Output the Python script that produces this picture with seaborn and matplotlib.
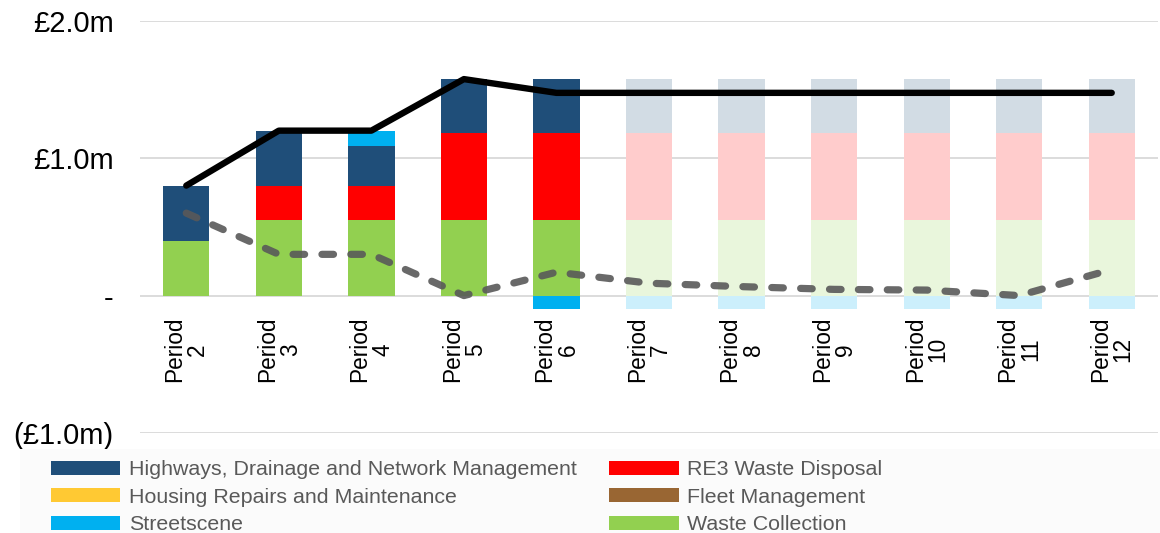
import numpy as np
import pandas as pd
import matplotlib
matplotlib.use("Agg")
import matplotlib.pyplot as plt
import matplotlib.transforms as mtransforms
from matplotlib.patches import Patch, Rectangle
from matplotlib.colors import to_rgb
import seaborn as sns

# ---- data (£m) ----
periods = ["Period\n2", "Period\n3", "Period\n4", "Period\n5", "Period\n6", "Period\n7",
           "Period\n8", "Period\n9", "Period\n10", "Period\n11", "Period\n12"]
actual_periods = 5  # Periods 2-6 are actuals, 7-12 forecast

waste_collection = [0.40, 0.55, 0.55, 0.55, 0.55, 0.55, 0.55, 0.55, 0.55, 0.55, 0.55]
re3_waste_disposal = [0.00, 0.25, 0.25, 0.63, 0.63, 0.63, 0.63, 0.63, 0.63, 0.63, 0.63]
highways = [0.40, 0.40, 0.29, 0.395, 0.395, 0.395, 0.395, 0.395, 0.395, 0.395, 0.395]
streetscene = [0.00, 0.00, 0.11, 0.00, -0.10, -0.10, -0.10, -0.10, -0.10, -0.10, -0.10]
housing_repairs = [0.0] * 11
fleet_management = [0.0] * 11

total_line = [0.80, 1.20, 1.20, 1.575, 1.475, 1.475, 1.475, 1.475, 1.475, 1.475, 1.475]
dashed_line = [0.60, 0.30, 0.30, 0.00, 0.17, 0.09, 0.065, 0.045, 0.04, 0.00, 0.19]

ytick_values = [-1.0, 0.0, 1.0, 2.0]
ytick_labels = ["(£1.0m)", "-", "£1.0m", "£2.0m"]

legend_labels = ["Highways, Drainage and Network Management", "Housing Repairs and Maintenance",
                 "Streetscene", "RE3 Waste Disposal", "Fleet Management", "Waste Collection"]

# ---- colours ----
NAVY = "#1F4E79"
RED = "#FF0000"
YELLOW = "#FFC933"
BROWN = "#996633"
CYAN = "#00B0F0"
GREEN = "#92D050"


def faded(c, a=0.2):
    r, g, b = to_rgb(c)
    return (1 - a + a * r, 1 - a + a * g, 1 - a + a * b)


def period_palette(c):
    return {p: (to_rgb(c) if i < actual_periods else faded(c)) for i, p in enumerate(periods)}


sns.set_theme(style="white")
plt.rcParams["font.family"] = ["Liberation Sans", "DejaVu Sans"]

fig = plt.figure(figsize=(11.6, 5.33), dpi=100)
ax = fig.add_axes([140 / 1160, 100 / 533, 1018 / 1160, 412.3 / 533])

# stacked layers drawn as cumulative heights, tallest first
wc = np.array(waste_collection)
re3 = np.array(re3_waste_disposal)
hw = np.array(highways)
st = np.array(streetscene)
st_pos = np.clip(st, 0, None)
st_neg = np.clip(st, None, 0)

layers = [
    (wc + re3 + hw + st_pos, CYAN),
    (wc + re3 + hw, NAVY),
    (wc + re3, RED),
    (wc, GREEN),
    (st_neg, CYAN),
]
for heights, col in layers:
    df = pd.DataFrame({"period": periods, "value": heights})
    sns.barplot(data=df, x="period", y="value", hue="period", order=periods,
                palette=period_palette(col), width=0.5, dodge=False, legend=False,
                saturation=1, linewidth=0, ax=ax, zorder=2)

# lines
sns.pointplot(x=periods, y=dashed_line, order=periods, color="#595959", marker="",
              linewidth=5.2, dashes=(1.6, 2.4), dash_capstyle="round", alpha=0.9,
              ax=ax, zorder=4)
sns.pointplot(x=periods, y=total_line, order=periods, color="black", marker="",
              linewidth=4.6, solid_capstyle="round", solid_joinstyle="round",
              ax=ax, zorder=5)

ax.set_xlim(-0.5, len(periods) - 0.5)
ax.set_ylim(-1.0, 2.0)
ax.set_yticks(ytick_values)
ax.set_yticklabels(ytick_labels)
ax.tick_params(axis="y", length=0, pad=19, labelsize=21, labelcolor="black")
ax.set_xticks([])
ax.set_xlabel("")
ax.set_ylabel("")
ax.grid(axis="y", color="#D9D9D9", linewidth=1.3, zorder=0)
ax.set_axisbelow(True)
for s in ax.spines.values():
    s.set_visible(False)

# category labels hang just under the zero line
off = mtransforms.offset_copy(ax.transData, fig=fig, x=0, y=-21, units="dots")
for i, p in enumerate(periods):
    ax.text(i, 0, p, rotation=90, ha="center", va="top", multialignment="center",
            fontsize=16.3, color="black", transform=off, linespacing=1.0)

# legend panel
fig.patches.append(Rectangle((20 / 1160, 0), 1 - 20 / 1160, 84 / 533, transform=fig.transFigure,
                             facecolor="#FBFBFB", edgecolor="none", zorder=0))
handles = [Patch(facecolor=c, edgecolor="none") for c in [NAVY, YELLOW, CYAN, RED, BROWN, GREEN]]
fig.legend(handles, legend_labels, loc="upper left", bbox_to_anchor=(51 / 1160, 72.8 / 533),
           ncol=2, frameon=False, fontsize=15.4, labelcolor="#595959", handlelength=3.23,
           handleheight=0.655, handletextpad=0.4, columnspacing=1.54, labelspacing=0.40,
           borderpad=0, borderaxespad=0)

fig.savefig("out.png", dpi=100)
